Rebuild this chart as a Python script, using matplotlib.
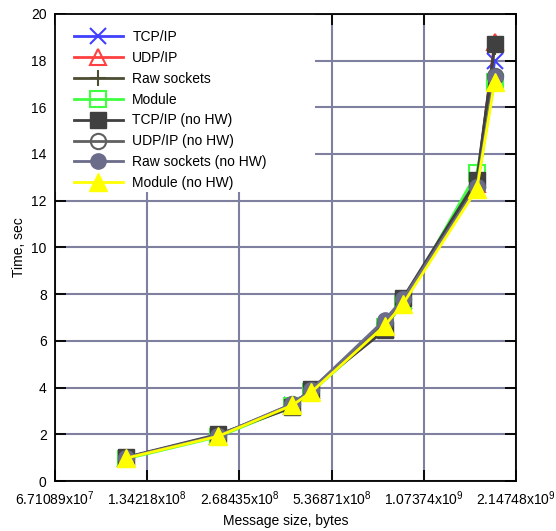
import numpy as np
import matplotlib
matplotlib.use('Agg')
import matplotlib.pyplot as plt
from matplotlib.patches import Rectangle

plt.rcParams['font.family'] = ['Liberation Sans', 'DejaVu Sans']
plt.rcParams['mathtext.fontset'] = 'custom'
plt.rcParams['mathtext.rm'] = 'Liberation Sans'
plt.rcParams['mathtext.it'] = 'Liberation Sans'
plt.rcParams['mathtext.bf'] = 'Liberation Sans'

# Message sizes, bytes
sizes = [1.144e8, 2.29e8, 4.0e8, 4.6e8, 8.0e8, 9.2e8, 1.6e9, 1.83e9]

# Times, sec
tcp = [1.0, 1.95, 3.25, 3.85, 6.6, 7.7, 12.8, 18.0]
udp = [1.0, 1.95, 3.2, 3.9, 6.5, 7.75, 12.7, 18.8]
raw = [1.0, 1.95, 3.25, 3.9, 6.6, 7.7, 12.8, 18.6]
module = [0.95, 1.9, 3.2, 3.8, 6.6, 7.6, 13.2, 17.1]
tcp_nohw = [1.02, 2.0, 3.15, 3.95, 6.45, 7.85, 12.9, 18.7]
udp_nohw = [1.0, 1.95, 3.3, 3.9, 6.8, 7.8, 12.6, 17.35]
raw_nohw = [1.0, 1.95, 3.3, 3.9, 6.9, 7.8, 12.6, 17.3]
module_nohw = [0.98, 1.92, 3.25, 3.8, 6.65, 7.6, 12.5, 17.1]

xticks = [2**26, 2**27, 2**28, 2**29, 2**30, 2**31]
xticklabels = ['6.71089x10$^{7}$', '1.34218x10$^{8}$', '2.68435x10$^{8}$',
               '5.36871x10$^{8}$', '1.07374x10$^{9}$', '2.14748x10$^{9}$']

fig = plt.figure(figsize=(5.56, 5.31), dpi=100)
ax = fig.add_axes([0.099, 0.094, 0.829, 0.88])

series = [
    (tcp, 'TCP/IP', dict(color='#4040ff', marker='x', ms=11, mew=1.5)),
    (udp, 'UDP/IP', dict(color='#ff4040', marker='^', ms=12, mfc='none', mew=1.5)),
    (raw, 'Raw sockets', dict(color='#4d4d33', marker='+', ms=12, mew=1.5)),
    (module, 'Module', dict(color='#40ff40', marker='s', ms=11, mfc='none', mew=1.5)),
    (tcp_nohw, 'TCP/IP (no HW)', dict(color='#404040', marker='s', ms=11)),
    (udp_nohw, 'UDP/IP (no HW)', dict(color='#606060', marker='o', ms=11, mfc='none', mew=1.5)),
    (raw_nohw, 'Raw sockets (no HW)', dict(color='#6b6b8a', marker='o', ms=11)),
    (module_nohw, 'Module (no HW)', dict(color='#ffff00', marker='^', ms=13)),
]
for ys, lab, st in series:
    ax.plot(sizes, ys, lw=2, label=lab, **st)

ax.set_xscale('log', base=2)
ax.set_xlim(2**26, 2**31)
ax.set_ylim(0, 20)
ax.set_xticks(xticks)
ax.set_xticklabels(xticklabels)
ax.minorticks_off()
ax.set_yticks(np.arange(0, 21, 2))
ax.tick_params(direction='in', length=8, width=1.3, top=True, right=True,
               labelsize=10, colors='black', pad=6)
for s in ax.spines.values():
    s.set_linewidth(1.3)

ax.grid(True, color='#7f7f9f', lw=1.5)
ax.set_axisbelow(True)

# white box behind the key hides the grid there
ax.add_patch(Rectangle((0, 0.619), 0.564, 0.381, transform=ax.transAxes,
                       facecolor='white', edgecolor='none', zorder=1))

ax.set_xlabel('Message size, bytes', fontsize=10)
ax.set_ylabel('Time, sec', fontsize=10)

leg = ax.legend(loc='upper left', bbox_to_anchor=(0.041, 0.966), frameon=False,
                fontsize=10, handlelength=3.5, handletextpad=0.7,
                labelspacing=0.5, borderaxespad=0.0, borderpad=0.0)
leg.set_zorder(5)

fig.savefig('out.png', dpi=100)
